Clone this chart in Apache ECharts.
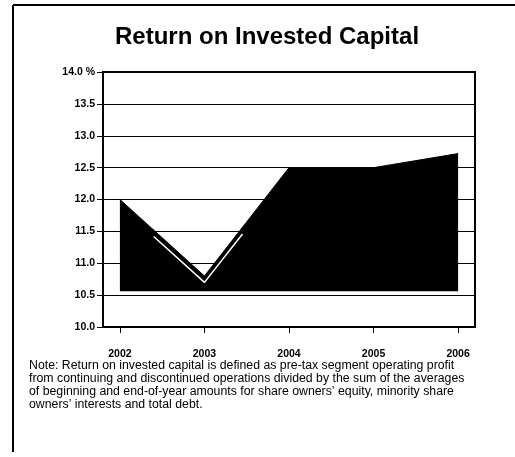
<!DOCTYPE html>
<html>
<head>
<meta charset="utf-8">
<script src="https://cdn.jsdelivr.net/npm/echarts@6/dist/echarts.min.js"></script>
<style>html,body{margin:0;padding:0;background:#fff}#c{width:515px;height:457px}</style>
</head>
<body>
<div id="c"></div>
<script>
const years = [2002, 2003, 2004, 2005, 2006];
const roic = [12.0, 10.8, 12.5, 12.5, 12.72];
const highlightX = [2002.4, 2003, 2003.45];
const highlightY = [11.42, 10.7, 11.46];
const fillBase = 10.56;
const titleText = 'Return on Invested Capital';
const noteLines = [
  'Note: Return on invested capital is defined as pre-tax segment operating profit',
  'from continuing and discontinued operations divided by the sum of the averages',
  'of beginning and end-of-year amounts for share owners\u2019 equity, minority share',
  'owners\u2019 interests and total debt.'
];

const chart = echarts.init(document.getElementById('c'), null, {renderer: 'canvas'});
const font = 'Liberation Sans, Arial, Helvetica, sans-serif';

chart.setOption({
  animation: false,
  backgroundColor: '#fff',
  title: {
    text: titleText, left: 110, top: 20,
    textStyle: {fontFamily: font, fontSize: 24, fontWeight: 'bold', color: '#000'}
  },
  grid: {left: 103, right: 40, top: 72, bottom: 130, show: true, borderColor: '#000', borderWidth: 2, backgroundColor: 'transparent'},
  xAxis: {
    type: 'value', min: 2001.8, max: 2006.2,
    axisLine: {show: true, lineStyle: {color: '#000', width: 2}},
    axisTick: {show: true, customValues: years, length: 6, lineStyle: {color: '#000', width: 1}},
    axisLabel: {customValues: years, margin: 22, fontFamily: font, fontSize: 10.5, fontWeight: 'bold', color: '#000', formatter: v => String(v)},
    splitLine: {show: false}
  },
  yAxis: {
    type: 'value', min: 10, max: 14, interval: 0.5,
    axisLine: {show: true, lineStyle: {color: '#000', width: 2}},
    axisTick: {show: true, inside: false, length: 6, lineStyle: {color: '#000', width: 1}},
    axisLabel: {margin: 8, fontFamily: font, fontSize: 10.5, fontWeight: 'bold', color: '#000',
      formatter: v => v === 14 ? '14.0 %' : v.toFixed(1)},
    splitLine: {show: true, lineStyle: {color: '#000', width: 1}}
  },
  series: [
    {
      type: 'line', data: years.map((y, i) => [y, roic[i]]),
      symbol: 'none', z: 3,
      lineStyle: {color: '#000', width: 1},
      areaStyle: {color: '#000', opacity: 1, origin: fillBase}
    },
    {
      type: 'line', data: highlightX.map((x, i) => [x, highlightY[i]]),
      symbol: 'none', z: 4,
      lineStyle: {color: '#fff', width: 1.5}
    }
  ],
  graphic: [
    {type: 'line', shape: {x1: 13, y1: 5, x2: 515, y2: 5}, style: {stroke: '#000', lineWidth: 2}},
    {type: 'line', shape: {x1: 13, y1: 5, x2: 13, y2: 452}, style: {stroke: '#000', lineWidth: 2}},
    ...noteLines.map((t, i) => ({
      type: 'text', left: 29, top: 359.5 + i * 12.9,
      style: {text: t, font: '12.3px ' + font, fill: '#000'}
    }))
  ]
});
</script>
</body>
</html>
